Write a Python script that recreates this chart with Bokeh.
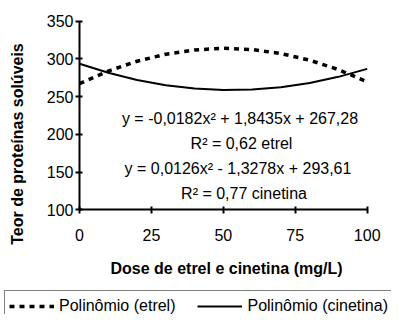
import math
from bokeh.plotting import figure
from bokeh.models import Range1d, FixedTicker, Label, Legend, LegendItem
from bokeh.embed import file_html
from bokeh.resources import INLINE

dose = [0, 10, 20, 30, 40, 50, 60, 70, 80, 90, 100]
etrel = [267.3, 283.9, 296.9, 306.2, 311.9, 314.0, 312.4, 307.1, 298.3, 285.8, 269.6]
cinetina = [293.6, 281.6, 272.1, 265.1, 260.7, 258.7, 259.3, 262.4, 268.0, 276.2, 286.8]
x_ticks = [0, 25, 50, 75, 100]
y_ticks = [100, 150, 200, 250, 300, 350]
eq_texts = ["y = -0,0182x² + 1,8435x + 267,28", "R² = 0,62 etrel",
            "y = 0,0126x² - 1,3278x + 293,61", "R² = 0,77 cinetina"]
legend_labels = ["Polinômio (etrel)", "Polinômio (cinetina)"]
x_title = "Dose de etrel e cinetina (mg/L)"
y_title = "Teor de proteínas solúveis"

FONT = "Liberation Sans"
FS = "16px"
W, H = 391, 314

# the plotting frame fills the whole canvas; axes sit at fixed data positions
p = figure(width=W, height=H, output_backend="svg", toolbar_location=None,
           x_range=Range1d(-27.46, 108.45), y_range=Range1d(-38.8, 377.4),
           min_border_left=0, min_border_right=0, min_border_top=0, min_border_bottom=0)
p.outline_line_color = None
p.xgrid.visible = False
p.ygrid.visible = False
p.background_fill_color = "white"
p.border_fill_color = "white"

for ax in (p.xaxis[0], p.yaxis[0]):
    ax.axis_line_width = 2
    ax.axis_line_color = "black"
    ax.major_tick_line_width = 2
    ax.major_tick_line_color = "black"
    ax.major_tick_in = 3
    ax.major_tick_out = 4
    ax.minor_tick_line_color = None
    ax.major_label_text_font = FONT
    ax.major_label_text_font_size = FS
    ax.major_label_text_color = "black"

p.xaxis.ticker = FixedTicker(ticks=x_ticks)
p.yaxis.ticker = FixedTicker(ticks=y_ticks)
p.xaxis.bounds = (x_ticks[0], x_ticks[-1])
p.yaxis.bounds = (y_ticks[0], y_ticks[-1])
p.xaxis.fixed_location = y_ticks[0]
p.yaxis.fixed_location = x_ticks[0]
p.xaxis.major_label_standoff = 15
p.yaxis.major_label_standoff = 2

r_etrel = p.line(dose, etrel, line_color="black", line_width=3.5, line_dash="5 5")
r_cin = p.line(dose, cinetina, line_color="black", line_width=2)

def add_text(x, y, text, bold=False, angle=0.0):
    p.add_layout(Label(x=x, y=y, x_units="screen", y_units="screen", text=text, angle=angle,
                       text_align="center", text_baseline="middle",
                       text_font=FONT, text_font_size=FS, text_color="black",
                       text_font_style="bold" if bold else "normal"))

# axis titles
add_text(226, 46, x_title, bold=True)
add_text(17, 170.5, y_title, bold=True, angle=math.pi / 2)

# trend-line equations
eq_x = [239.5, 241, 237.5, 243.5]
eq_y = [196, 171, 146, 121]
for t, xx, yy in zip(eq_texts, eq_x, eq_y):
    add_text(xx, yy, t)

legend = Legend(items=[LegendItem(label=legend_labels[0], renderers=[r_etrel]),
                       LegendItem(label=legend_labels[1], renderers=[r_cin])],
                orientation="horizontal", location=(4, -8),
                padding=4, spacing=22, margin=0, label_standoff=5,
                glyph_width=45, glyph_height=20, label_height=22,
                label_text_font=FONT, label_text_font_size=FS, label_text_color="black",
                border_line_color="black", border_line_width=1.5, background_fill_alpha=1)
p.add_layout(legend, "center")

open("out.html", "w").write(file_html(p, INLINE))
